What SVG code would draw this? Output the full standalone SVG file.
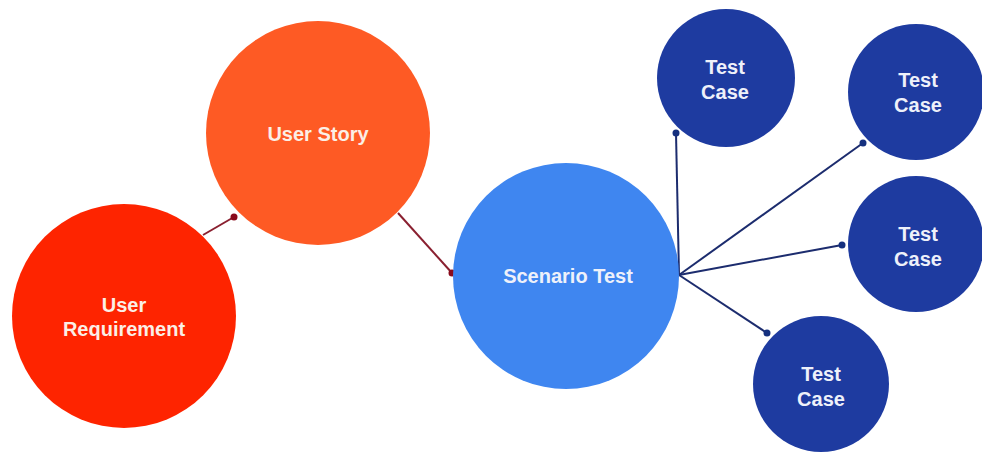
<svg xmlns="http://www.w3.org/2000/svg" width="982" height="452" viewBox="0 0 982 452">
<style>
text{font-family:"Liberation Sans",Arial,sans-serif;font-weight:bold;font-size:20px;text-anchor:middle}
.warm{fill:#FBEFE6}
.cool{fill:#EEF1FA}
.lr{stroke:#8A2030;stroke-width:2;fill:none}
.lb{stroke:#1C2C6E;stroke-width:2;fill:none}
.dr{fill:#8A0A1C}
.db{fill:#15307F}
.tc{fill:#1E3BA0}
</style>
<rect width="982" height="452" fill="#FFFFFF"/>
<g id="connectors">
<line class="lr" x1="203" y1="235" x2="234" y2="217"/>
<circle class="dr" cx="234" cy="217" r="3.5"/>
<line class="lr" x1="398" y1="213" x2="452" y2="273"/>
<circle class="dr" cx="452" cy="273" r="3.5"/>
<line class="lb" x1="679" y1="275" x2="676" y2="133"/>
<circle class="db" cx="676" cy="133" r="3.5"/>
<line class="lb" x1="679" y1="275" x2="863" y2="143"/>
<circle class="db" cx="863" cy="143" r="3.5"/>
<line class="lb" x1="679" y1="275" x2="842" y2="245"/>
<circle class="db" cx="842" cy="245" r="3.5"/>
<line class="lb" x1="679" y1="275" x2="767" y2="333"/>
<circle class="db" cx="767" cy="333" r="3.5"/>
</g>
<g id="user-requirement">
<circle cx="124" cy="316" r="112" fill="#FE2400"/>
<text class="warm" x="124" y="312">User</text>
<text class="warm" x="124" y="336">Requirement</text>
</g>
<g id="user-story">
<circle cx="318" cy="133" r="112" fill="#FE5A24"/>
<text class="warm" x="318" y="141">User Story</text>
</g>
<g id="scenario-test">
<circle cx="566" cy="276" r="113" fill="#3F86F0"/>
<text class="cool" x="568" y="283">Scenario Test</text>
</g>
<g id="test-case-1">
<circle class="tc" cx="726" cy="78" r="69"/>
<text class="cool" x="725" y="74">Test</text>
<text class="cool" x="725" y="99">Case</text>
</g>
<g id="test-case-2">
<circle class="tc" cx="916" cy="92" r="68"/>
<text class="cool" x="918" y="87">Test</text>
<text class="cool" x="918" y="112">Case</text>
</g>
<g id="test-case-3">
<circle class="tc" cx="916" cy="244" r="68"/>
<text class="cool" x="918" y="241">Test</text>
<text class="cool" x="918" y="266">Case</text>
</g>
<g id="test-case-4">
<circle class="tc" cx="821" cy="384" r="68"/>
<text class="cool" x="821" y="381">Test</text>
<text class="cool" x="821" y="406">Case</text>
</g>
</svg>
